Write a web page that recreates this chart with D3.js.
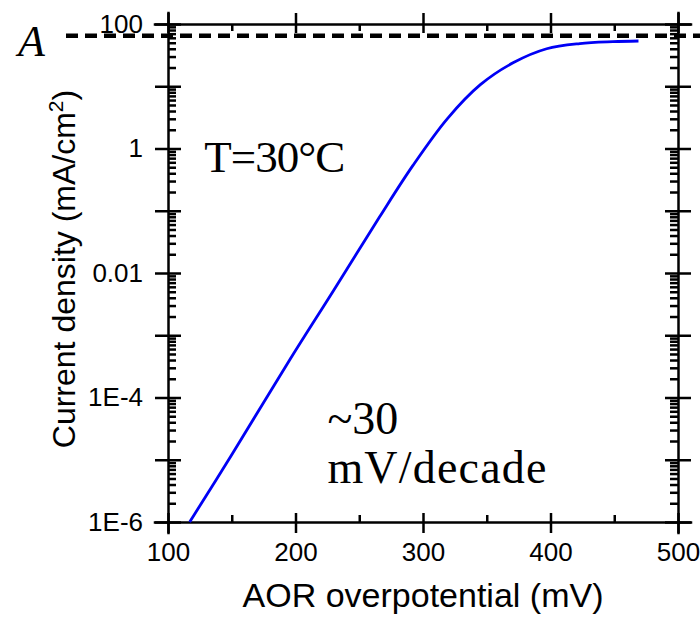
<!DOCTYPE html>
<meta charset="utf-8">
<head>
<script src="https://cdn.jsdelivr.net/npm/d3@7"></script>
<style>
  body { margin: 0; background: #fff; }
  .tick text { font-family: "Liberation Sans", Arial, sans-serif; font-size: 26px; fill: #000; }
  .axis path, .axis line { stroke: #000; stroke-width: 2.5px; }
  .serif { font-family: "Liberation Serif", "Times New Roman", serif; fill: #000; }
</style>
</head>
<body>
<div id="chart"></div>
<script>
  // AOR polarization curve
  const overpotential = [117, 150, 196, 230, 266, 292, 319, 345, 371, 397, 423, 449, 469];
  const currentDensity = [1e-6, 1.2e-5, 4.2e-4, 5.3e-3, 0.08, 0.53, 3.0, 10.6, 24, 40, 48.5, 52, 53.3];

  // limiting current (dashed line "A")
  const limitCurrent = 65;
  const limitSpan = [20, 520];

  const xTicks = [100, 200, 300, 400, 500];
  const xMinor = [150, 250, 350, 450];
  const yDecades = [1e-6, 1e-5, 1e-4, 1e-3, 1e-2, 1e-1, 1, 10, 100];
  const yLabelled = [1e-6, 1e-4, 1e-2, 1, 100];
  const yLabels = ["1E-6", "1E-4", "0.01", "1", "100"];

  const margin = {top: 24, right: 22, bottom: 95, left: 168},
      width = 700 - margin.left - margin.right,
      height = 617 - margin.top - margin.bottom;

  const svg = d3.select("#chart")
    .append("svg")
      .attr("width", 700)
      .attr("height", 617)
    .append("g")
      .attr("transform", `translate(${margin.left},${margin.top})`);

  const x = d3.scaleLinear().domain([100, 500]).range([0, width]);
  const y = d3.scaleLog().domain([1e-6, 100]).range([height, 0]);

  // minor log ticks 2..9 of every decade
  const yMinor = [];
  yDecades.slice(0, -1).forEach(d => { for (let k = 2; k < 10; k++) yMinor.push(d * k); });

  const noText = () => "";
  const fmtY = d => { const i = yLabelled.findIndex(v => Math.abs(Math.log10(v) - Math.log10(d)) < 1e-6); return i < 0 ? "" : yLabels[i]; };

  function clean(g) { g.selectAll(".domain").remove(); }

  // left axis: outward major with labels, inward major + minor
  svg.append("g").attr("class", "axis")
    .call(d3.axisLeft(y).tickValues(yDecades).tickSize(13).tickPadding(12).tickFormat(fmtY));
  svg.append("g").attr("class", "axis")
    .call(d3.axisRight(y).tickValues(yDecades).tickSize(13).tickFormat(noText)).call(clean);
  svg.append("g").attr("class", "axis")
    .call(d3.axisRight(y).tickValues(yMinor).tickSize(8).tickFormat(noText)).call(clean);

  // right axis
  const right = svg.append("g").attr("transform", `translate(${width},0)`);
  right.append("g").attr("class", "axis")
    .call(d3.axisRight(y).tickValues(yDecades).tickSize(13).tickFormat(noText));
  right.append("g").attr("class", "axis")
    .call(d3.axisLeft(y).tickValues(yDecades).tickSize(13).tickFormat(noText)).call(clean);
  right.append("g").attr("class", "axis")
    .call(d3.axisLeft(y).tickValues(yMinor).tickSize(8).tickFormat(noText)).call(clean);

  // bottom axis
  const bottom = svg.append("g").attr("transform", `translate(0,${height})`);
  bottom.append("g").attr("class", "axis")
    .call(d3.axisBottom(x).tickValues(xTicks).tickSize(11).tickPadding(10).tickFormat(d3.format("d")));
  bottom.append("g").attr("class", "axis")
    .call(d3.axisTop(x).tickValues(xTicks).tickSize(9).tickFormat(noText)).call(clean);
  bottom.append("g").attr("class", "axis")
    .call(d3.axisTop(x).tickValues(xMinor).tickSize(7).tickFormat(noText)).call(clean);

  // top axis
  svg.append("g").attr("class", "axis")
    .call(d3.axisTop(x).tickValues(xTicks).tickSize(11).tickFormat(noText));
  svg.append("g").attr("class", "axis")
    .call(d3.axisBottom(x).tickValues(xTicks).tickSize(9).tickFormat(noText)).call(clean);
  svg.append("g").attr("class", "axis")
    .call(d3.axisBottom(x).tickValues(xMinor).tickSize(7).tickFormat(noText)).call(clean);

  svg.selectAll(".domain").attr("stroke-linecap", "square");

  // dashed limiting current line
  svg.append("line")
    .attr("x1", x(limitSpan[0])).attr("x2", x(limitSpan[1]))
    .attr("y1", y(limitCurrent)).attr("y2", y(limitCurrent))
    .attr("stroke", "#000").attr("stroke-width", 4.5)
    .attr("stroke-dasharray", "12,7");

  // curve
  const pts = overpotential.map((v, i) => [v, currentDensity[i]]);
  svg.append("path")
    .datum(pts)
    .attr("fill", "none")
    .attr("stroke", "#0000f5")
    .attr("stroke-width", 2.8)
    .attr("d", d3.line().x(d => x(d[0])).y(d => y(d[1])).curve(d3.curveCatmullRom.alpha(0.5)));

  // annotations
  svg.append("text").attr("class", "serif")
    .attr("x", x(20) - 48).attr("y", y(limitCurrent) + 20)
    .style("font-size", "44px").style("font-style", "italic")
    .text("A");

  svg.append("text").attr("class", "serif")
    .attr("x", x(128.5)).attr("y", y(0.42))
    .style("font-size", "45px").attr("letter-spacing", "-1")
    .text("T=30°C");

  svg.append("text").attr("class", "serif")
    .attr("x", x(225)).attr("y", y(2.6e-5))
    .style("font-size", "46px")
    .text("~30");
  svg.append("text").attr("class", "serif")
    .attr("x", x(225)).attr("y", y(4.2e-6))
    .style("font-size", "46px").attr("letter-spacing", "1.2")
    .text("mV/decade");

  // axis titles
  svg.append("text")
    .attr("x", width / 2).attr("y", height + 85)
    .attr("text-anchor", "middle")
    .style("font-family", "Liberation Sans, Arial, sans-serif").style("font-size", "34px")
    .text("AOR overpotential (mV)");

  svg.append("text")
    .attr("transform", `translate(${-93},${height / 2 - 4}) rotate(-90)`)
    .attr("text-anchor", "middle")
    .style("font-family", "Liberation Sans, Arial, sans-serif").style("font-size", "32px")
    .html("Current density (mA/cm<tspan dy='-12' font-size='21px'>2</tspan><tspan dy='12'>)</tspan>");
</script>
</body>
